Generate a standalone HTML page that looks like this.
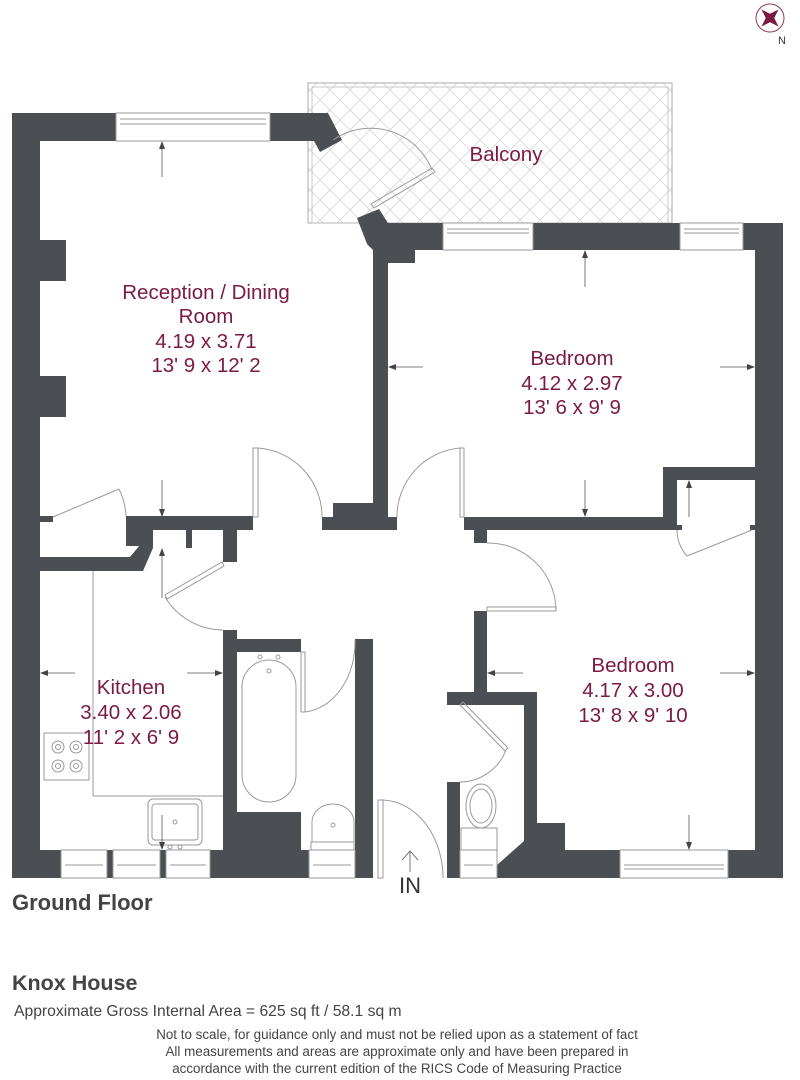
<!DOCTYPE html>
<html><head><meta charset="utf-8"><style>
html,body{margin:0;padding:0;background:#fff;}
svg{display:block;}
text{font-family:"Liberation Sans",Arial,sans-serif;}
.r{fill:#7a1a44;font-size:20.5px;text-anchor:middle;}
.w{fill:#4b4e53;}
.l{fill:none;stroke:#9a9a9a;stroke-width:1;}
.a{stroke:#555;stroke-width:0.8;fill:none;}
</style></head><body>
<svg width="800" height="1080" viewBox="0 0 800 1080" xmlns="http://www.w3.org/2000/svg">
<defs>
<pattern id="hx" width="20" height="20" patternUnits="userSpaceOnUse">
<path d="M0 0L20 20M20 0L0 20" stroke="#d6d6d6" stroke-width="0.8"/>
</pattern>
<marker id="ar" markerWidth="8" markerHeight="8" refX="7" refY="4" orient="auto" markerUnits="userSpaceOnUse">
<path d="M0,1 L8,4 L0,7 z" fill="#444"/>
</marker>
</defs>

<!-- compass -->
<circle cx="770" cy="18" r="14" fill="none" stroke="#8a3a5a" stroke-width="1"/>
<path d="M770 6 L773 15 L782 18 L773 21 L770 30 L767 21 L758 18 L767 15 Z" fill="#7a1a44" transform="rotate(45 770 18)"/>
<text x="778" y="44" font-size="11" fill="#333">N</text>

<!-- balcony -->
<rect x="308" y="83" width="364" height="140" fill="url(#hx)" stroke="#aaa"/>
<rect x="312" y="87" width="356" height="136" fill="none" stroke="#bbb" stroke-width="0.8"/>

<!-- walls -->
<g class="w">
<rect x="12" y="113" width="28" height="765"/>
<rect x="12" y="113" width="104" height="28"/>
<polygon points="270,113 328,113 342,140 320,152 314,141 270,141"/>
<rect x="40" y="240" width="26" height="41"/>
<rect x="40" y="376" width="26" height="41"/>
<polygon points="357,218 379,209 388,223 443,223 443,250 415,250 415,263 388,263 388,517 373,517 373,250 367,244"/>
<rect x="533" y="223" width="147" height="27"/>
<rect x="743" y="223" width="40" height="27"/>
<rect x="755" y="223" width="28" height="655"/>
<rect x="40" y="516" width="13" height="6"/>
<rect x="126" y="516" width="127" height="14"/>
<rect x="333" y="503" width="40" height="14"/>
<rect x="322" y="517" width="75" height="13"/>
<rect x="464" y="517" width="213" height="13"/>
<rect x="474" y="530" width="13" height="13"/>
<rect x="663" y="467" width="92" height="13"/>
<rect x="663" y="467" width="14" height="63"/>
<rect x="677" y="525" width="5" height="5"/>
<rect x="750" y="525" width="5" height="5"/>
<rect x="474" y="611" width="13" height="81"/>
<rect x="447" y="692" width="90" height="13"/>
<rect x="447" y="692" width="13" height="13"/>
<rect x="524" y="692" width="13" height="131"/>
<polygon points="537,823 565,823 565,850 620,850 620,878 497,878 497,865 524,841 524,823"/>
<rect x="447" y="782" width="13" height="96"/>
<rect x="728" y="850" width="55" height="28"/>
<!-- kitchen top -->
<polygon points="40,557 130,557 140,545 140,530 153,530 153,548 143,571 40,571"/>
<rect x="126" y="516" width="27" height="30"/>
<rect x="186" y="530" width="6" height="18"/>
<rect x="223" y="530" width="14" height="32"/>
<!-- bottom left -->
<rect x="12" y="850" width="49" height="28"/>
<rect x="107" y="850" width="6" height="28"/>
<rect x="160" y="850" width="6" height="28"/>
<rect x="210" y="850" width="99" height="28"/>
<rect x="223" y="630" width="14" height="220"/>
<rect x="223" y="639" width="78" height="13"/>
<rect x="223" y="812" width="78" height="40"/>
<rect x="355" y="639" width="18" height="239"/>
</g>

<!-- windows -->
<g class="l">
<rect x="116" y="113" width="154" height="28"/>
<line x1="120" y1="119" x2="266" y2="119"/><line x1="120" y1="124" x2="266" y2="124"/>
<rect x="443" y="223" width="90" height="27"/>
<line x1="447" y1="229" x2="529" y2="229"/><line x1="447" y1="233" x2="529" y2="233"/>
<rect x="680" y="223" width="63" height="27"/>
<line x1="684" y1="229" x2="739" y2="229"/><line x1="684" y1="233" x2="739" y2="233"/>
<rect x="620" y="850" width="108" height="28"/>
<line x1="624" y1="865" x2="724" y2="865"/><line x1="624" y1="869" x2="724" y2="869"/>
<rect x="61" y="850" width="46" height="28"/><line x1="65" y1="865" x2="103" y2="865"/>
<rect x="113" y="850" width="47" height="28"/><line x1="117" y1="865" x2="156" y2="865"/>
<rect x="166" y="850" width="44" height="28"/><line x1="170" y1="865" x2="206" y2="865"/>
<rect x="309" y="850" width="46" height="28"/><line x1="313" y1="865" x2="351" y2="865"/>
<rect x="460" y="850" width="37" height="28"/><line x1="464" y1="865" x2="493" y2="865"/>
</g>

<!-- doors -->
<g class="l">
<path d="M333 140 A66 66 0 0 1 432 170"/>
<polygon points="432,168 435,172 374,208 371,204"/>
<rect x="253" y="448" width="5" height="69"/>
<path d="M258 448 A69 69 0 0 1 322 517"/>
<rect x="460" y="448" width="4" height="69"/>
<path d="M460 448 A69 69 0 0 0 397 517"/>
<line x1="53" y1="517" x2="119" y2="489"/>
<path d="M119 489 A70 70 0 0 1 126 516"/>
<rect x="487" y="607" width="69" height="4"/>
<path d="M487 543 A68 68 0 0 1 556 611"/>
<line x1="687" y1="556" x2="752" y2="530"/>
<path d="M677 530 A40 40 0 0 0 687 556"/>
<polygon points="460,705 463,702 508,748 505,751"/>
<path d="M506 750 A50 50 0 0 1 460 782"/>
<rect x="378" y="800" width="5" height="78"/>
<path d="M383 800 A62 78 0 0 1 443 878"/>
<polygon points="165,595 222,562 224,566 167,599"/>
<path d="M165 597 A68 68 0 0 0 223 630"/>
<rect x="301" y="652" width="4" height="60"/>
<path d="M305 712 A55 70 0 0 0 355 640"/>
<!-- kitchen units -->
<polyline points="93,571 93,796 223,796"/>
<rect x="44" y="733" width="45" height="47"/>
<circle cx="58" cy="747" r="6"/><circle cx="58" cy="747" r="2.5"/>
<circle cx="76" cy="747" r="6"/><circle cx="76" cy="747" r="2.5"/>
<circle cx="58" cy="766" r="6"/><circle cx="58" cy="766" r="2.5"/>
<circle cx="76" cy="766" r="6"/><circle cx="76" cy="766" r="2.5"/>
<rect x="148" y="799" width="54" height="46" rx="5"/>
<rect x="152" y="804" width="46" height="36" rx="3"/>
<circle cx="175" cy="822" r="2"/><circle cx="170" cy="847" r="2"/><circle cx="180" cy="847" r="2"/>
<!-- bath -->
<rect x="242" y="660" width="54" height="142" rx="27"/>
<circle cx="260" cy="657" r="2"/><circle cx="278" cy="657" r="2"/><circle cx="269" cy="671" r="2"/>
<!-- basin -->
<path d="M312 842 L312 822 A21 18 0 0 1 354 822 L354 842 Z"/>
<rect x="311" y="842" width="43" height="8"/>
<circle cx="333" cy="825" r="2"/>
<!-- toilet -->
<ellipse cx="481" cy="806" rx="15" ry="22"/>
<ellipse cx="481" cy="806" rx="11" ry="17"/>
<rect x="461" y="828" width="36" height="22"/>
</g>

<!-- dimension arrows -->
<g class="a">
<line x1="162" y1="177" x2="162" y2="142" marker-end="url(#ar)"/>
<line x1="162" y1="480" x2="162" y2="516" marker-end="url(#ar)"/>
<line x1="585" y1="287" x2="585" y2="251" marker-end="url(#ar)"/>
<line x1="585" y1="480" x2="585" y2="516" marker-end="url(#ar)"/>
<line x1="423" y1="367" x2="389" y2="367" marker-end="url(#ar)"/>
<line x1="720" y1="367" x2="754" y2="367" marker-end="url(#ar)"/>
<line x1="689" y1="517" x2="689" y2="481" marker-end="url(#ar)"/>
<line x1="523" y1="673" x2="488" y2="673" marker-end="url(#ar)"/>
<line x1="720" y1="673" x2="754" y2="673" marker-end="url(#ar)"/>
<line x1="689" y1="815" x2="689" y2="849" marker-end="url(#ar)"/>
<line x1="75" y1="673" x2="41" y2="673" marker-end="url(#ar)"/>
<line x1="187" y1="673" x2="222" y2="673" marker-end="url(#ar)"/>
<line x1="162" y1="598" x2="162" y2="549" marker-end="url(#ar)"/>
<line x1="162" y1="815" x2="162" y2="849" marker-end="url(#ar)"/>
<line x1="410" y1="872" x2="410" y2="852"/>
<path d="M402 860 L410 851 L418 860"/>
</g>

<!-- labels -->
<text class="r" x="206" y="299">Reception / Dining</text>
<text class="r" x="206" y="323">Room</text>
<text class="r" x="206" y="348">4.19 x 3.71</text>
<text class="r" x="206" y="372">13' 9 x 12' 2</text>
<text class="r" x="506" y="161">Balcony</text>
<text class="r" x="572" y="365">Bedroom</text>
<text class="r" x="572" y="390">4.12 x 2.97</text>
<text class="r" x="572" y="414">13' 6 x 9' 9</text>
<text class="r" x="633" y="672">Bedroom</text>
<text class="r" x="633" y="697">4.17 x 3.00</text>
<text class="r" x="633" y="722">13' 8 x 9' 10</text>
<text class="r" x="131" y="694">Kitchen</text>
<text class="r" x="131" y="719">3.40 x 2.06</text>
<text class="r" x="131" y="744">11' 2 x 6' 9</text>

<text x="410" y="893" font-size="22" fill="#333" text-anchor="middle">IN</text>
<text x="12" y="910" font-size="22" font-weight="bold" fill="#444">Ground Floor</text>
<text x="12" y="990" font-size="21.5" font-weight="bold" fill="#444">Knox House</text>
<text x="14" y="1016" font-size="15.7" fill="#444">Approximate Gross Internal Area = 625 sq ft / 58.1 sq m</text>
<text x="397" y="1039" font-size="13.4" fill="#444" text-anchor="middle">Not to scale, for guidance only and must not be relied upon as a statement of fact</text>
<text x="397" y="1056" font-size="13.4" fill="#444" text-anchor="middle">All measurements and areas are approximate only and have been prepared in</text>
<text x="397" y="1073" font-size="13.4" fill="#444" text-anchor="middle">accordance with the current edition of the RICS Code of Measuring Practice</text>
</svg>
</body></html>
